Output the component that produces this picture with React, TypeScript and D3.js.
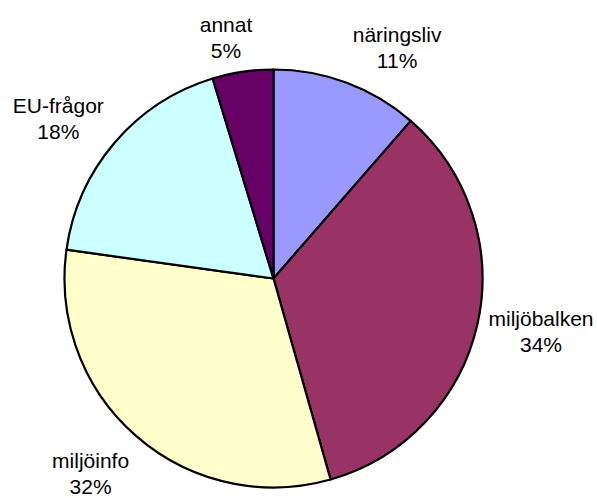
import React from "react";
import * as d3 from "d3";

const categories = ["näringsliv", "miljöbalken", "miljöinfo", "EU-frågor", "annat"];
const values = [11.4, 34.2, 31.6, 18.1, 4.7];
const percentLabels = ["11%", "34%", "32%", "18%", "5%"];
const colors = ["#9999FF", "#993366", "#FFFFCC", "#CCFFFF", "#660066"];
// label nudges relative to the label arc centroid (text placement only)
const labelNudges: [number, number][] = [
  [30.7, 17.7],
  [8.9, -4.3],
  [-8.9, -4.0],
  [-13.7, 12.9],
  [-8.5, 21.6],
];

const W = 597;
const H = 498;
const cx = 273.5;
const cy = 278.5;
const R = 209;
const labelR = 265;

export default function App() {
  const pie = d3
    .pie<number>()
    .sort(null)
    .value((d) => d)
    .startAngle(0)
    .endAngle(2 * Math.PI);
  const arcs = pie(values);
  const arc = d3.arc<d3.PieArcDatum<number>>().innerRadius(0).outerRadius(R);
  const labelArc = d3
    .arc<d3.PieArcDatum<number>>()
    .innerRadius(labelR)
    .outerRadius(labelR);

  return (
    <svg
      width={W}
      height={H}
      style={{ position: "absolute", left: 0, top: 0, display: "block" }}
    >
      <rect width={W} height={H} fill="#ffffff" />
      <g transform={`translate(${cx},${cy})`}>
        {arcs.map((a, i) => (
          <path
            key={i}
            d={arc(a) || ""}
            fill={colors[i]}
            stroke="#000"
            strokeWidth={2.2}
            strokeLinejoin="round"
          />
        ))}
        {arcs.map((a, i) => {
          const [lx, ly] = labelArc.centroid(a);
          const x = lx + labelNudges[i][0];
          const y = ly + labelNudges[i][1];
          return (
            <text
              key={"t" + i}
              x={x}
              y={y}
              textAnchor="middle"
              fontFamily="'Liberation Sans', Arial, sans-serif"
              fontSize={21}
              fill="#000"
            >
              <tspan x={x} y={y - 6}>
                {categories[i]}
              </tspan>
              <tspan x={x} y={y + 20}>
                {percentLabels[i]}
              </tspan>
            </text>
          );
        })}
      </g>
    </svg>
  );
}
